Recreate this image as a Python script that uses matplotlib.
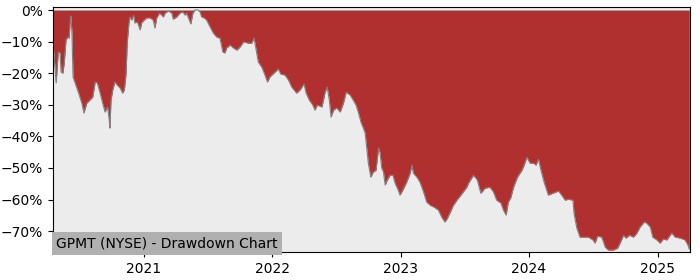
import pandas as pd
import matplotlib
matplotlib.use("Agg")
import matplotlib.pyplot as plt
import matplotlib.dates as mdates
from matplotlib.ticker import FuncFormatter

# drawdown (percent below running peak)
dates = [
    "2020-04-18", "2020-04-26", "2020-05-02", "2020-05-07", "2020-05-10", "2020-05-15",
    "2020-05-19", "2020-05-24", "2020-05-29", "2020-06-02", "2020-06-05", "2020-06-07",
    "2020-06-10", "2020-06-13", "2020-06-19", "2020-06-28", "2020-07-08", "2020-07-14",
    "2020-07-22", "2020-07-31", "2020-08-08", "2020-08-15", "2020-08-21", "2020-08-29",
    "2020-09-03", "2020-09-12", "2020-09-19", "2020-09-24", "2020-09-26", "2020-09-29",
    "2020-10-04", "2020-10-10", "2020-10-17", "2020-10-25", "2020-11-01", "2020-11-06",
    "2020-11-11", "2020-11-14", "2020-11-19", "2020-11-22", "2020-11-27", "2020-12-02",
    "2020-12-06", "2020-12-13", "2020-12-21", "2020-12-25", "2021-01-01", "2021-01-09",
    "2021-01-18", "2021-01-27", "2021-02-01", "2021-02-06", "2021-02-14", "2021-02-20",
    "2021-02-25", "2021-03-02", "2021-03-11", "2021-03-21", "2021-03-25", "2021-04-04",
    "2021-04-13", "2021-04-21", "2021-04-28", "2021-05-02", "2021-05-14", "2021-05-20",
    "2021-05-26", "2021-06-04", "2021-06-09", "2021-06-14", "2021-06-21", "2021-06-28",
    "2021-07-08", "2021-07-17", "2021-07-27", "2021-08-05", "2021-08-13", "2021-08-19",
    "2021-08-24", "2021-09-03", "2021-09-12", "2021-09-22", "2021-10-01", "2021-10-11",
    "2021-10-25", "2021-11-03", "2021-11-10", "2021-11-16", "2021-11-22", "2021-12-02",
    "2021-12-11", "2021-12-18", "2021-12-25", "2022-01-09", "2022-01-18", "2022-01-25",
    "2022-02-06", "2022-02-16", "2022-02-25", "2022-03-11", "2022-03-21", "2022-04-01",
    "2022-04-07", "2022-04-16", "2022-04-26", "2022-05-02", "2022-05-09", "2022-05-22",
    "2022-05-31", "2022-06-06", "2022-06-12", "2022-06-17", "2022-06-24", "2022-07-03",
    "2022-07-13", "2022-07-22", "2022-07-30", "2022-08-10", "2022-08-19", "2022-08-27",
    "2022-09-03", "2022-09-10", "2022-09-17", "2022-09-22", "2022-09-27", "2022-10-01",
    "2022-10-08", "2022-10-15", "2022-10-23", "2022-10-30", "2022-11-03", "2022-11-08",
    "2022-11-13", "2022-11-18", "2022-11-24", "2022-12-02", "2022-12-10", "2022-12-16",
    "2022-12-25", "2022-12-30", "2023-01-07", "2023-01-18", "2023-01-28", "2023-02-02",
    "2023-02-06", "2023-02-16", "2023-02-25", "2023-03-07", "2023-03-16", "2023-03-26",
    "2023-04-06", "2023-04-18", "2023-04-28", "2023-05-07", "2023-05-14", "2023-05-22",
    "2023-05-31", "2023-06-10", "2023-06-19", "2023-06-28", "2023-07-08", "2023-07-13",
    "2023-07-27", "2023-08-07", "2023-08-17", "2023-08-29", "2023-09-12", "2023-09-22",
    "2023-10-01", "2023-10-13", "2023-10-20", "2023-10-28", "2023-11-03", "2023-11-10",
    "2023-11-18", "2023-11-29", "2023-12-12", "2023-12-18", "2023-12-26", "2024-01-04",
    "2024-01-14", "2024-01-21", "2024-01-28", "2024-02-04", "2024-02-13", "2024-02-25",
    "2024-03-09", "2024-03-25", "2024-04-03", "2024-04-13", "2024-04-22", "2024-05-05",
    "2024-05-08", "2024-05-16", "2024-05-25", "2024-06-09", "2024-06-18", "2024-07-01",
    "2024-07-07", "2024-07-14", "2024-07-26", "2024-08-05", "2024-08-14", "2024-08-28",
    "2024-09-09", "2024-09-16", "2024-09-26", "2024-10-03", "2024-10-13", "2024-10-24",
    "2024-11-03", "2024-11-12", "2024-11-24", "2024-12-01", "2024-12-11", "2024-12-18",
    "2024-12-30", "2025-01-08", "2025-01-17", "2025-01-27", "2025-02-10", "2025-02-20",
    "2025-03-06", "2025-03-20", "2025-03-28", "2025-04-01",
]
drawdown = [
    -11.7, -23.1, -13.3, -13.6, -19.6, -20.0,
    -16.8, -9.5, -8.6, -8.9, -3.2, -1.9,
    -7.3, -21.2, -23.1, -26.0, -29.5, -32.6,
    -29.5, -28.5, -27.6, -22.8, -23.1, -26.3,
    -28.5, -32.3, -30.7, -34.8, -37.4, -28.5,
    -25.3, -22.8, -23.8, -24.7, -26.3, -25.3,
    -20.0, -10.5, -4.1, -2.2, -3.2, -1.6,
    -4.1, -3.8, -6.3, -4.1, -3.2, -2.5,
    -2.5, -3.2, -5.7, -2.5, -1.0, -1.6,
    -2.2, -1.0, -0.3, -1.0, -2.9, -2.2,
    -1.0, -0.6, -1.6, -1.0, -4.4, -1.0,
    0.0, 0.0, -0.6, -2.2, -2.5, -3.2,
    -5.4, -7.3, -8.6, -8.9, -13.3, -13.6,
    -12.0, -11.1, -12.0, -12.7, -11.7, -10.1,
    -10.5, -10.5, -8.9, -12.7, -16.5, -18.1,
    -20.6, -22.8, -21.2, -19.6, -18.7, -20.3,
    -20.6, -22.2, -24.4, -26.3, -25.3, -23.4,
    -26.3, -28.5, -30.1, -31.7, -30.1, -30.7,
    -26.0, -24.4, -28.5, -33.9, -31.7, -31.0,
    -32.3, -29.5, -26.0, -26.9, -28.5, -30.1,
    -32.6, -35.5, -37.4, -39.0, -44.3, -48.5,
    -52.9, -51.3, -50.7, -43.7, -45.0, -50.0,
    -51.3, -55.4, -53.8, -52.3, -52.3, -54.8,
    -57.0, -58.6, -57.0, -54.5, -51.6, -49.1,
    -51.6, -52.9, -54.5, -57.6, -60.8, -61.8,
    -62.4, -63.3, -65.6, -67.1, -65.9, -64.0,
    -61.8, -60.2, -58.9, -57.6, -56.1, -54.8,
    -52.3, -53.8, -58.0, -56.4, -56.1, -57.6,
    -60.2, -61.1, -63.3, -64.9, -60.8, -59.5,
    -56.1, -52.9, -50.7, -49.1, -46.6, -48.5,
    -48.5, -49.1, -47.2, -50.7, -54.5, -58.6,
    -58.0, -57.3, -58.6, -60.2, -59.9, -60.2,
    -64.3, -69.0, -71.9, -71.9, -71.9, -72.8,
    -73.8, -71.6, -71.9, -75.1, -76.0, -76.0,
    -75.4, -73.8, -71.3, -72.2, -71.3, -71.9,
    -70.6, -68.7, -67.1, -67.5, -68.7, -71.9,
    -72.8, -73.8, -72.5, -72.8, -70.6, -71.9,
    -72.2, -72.8, -74.4, -75.7,
]
title = "GPMT (NYSE) - Drawdown Chart"

x = pd.to_datetime(dates)

fig = plt.figure(figsize=(7, 2.8), dpi=100)
ax = fig.add_axes([0.0757, 0.1, 0.91, 0.875])
ax.set_facecolor("#ececec")

ax.fill_between(x, drawdown, 0, color="#b03030", linewidth=0)
ax.plot(x, drawdown, color="#808080", linewidth=0.8)

ax.set_xlim(pd.Timestamp("2020-04-17"), pd.Timestamp("2025-04-03"))
ax.set_ylim(-76.6, 0.95)
ax.yaxis.set_major_formatter(FuncFormatter(lambda v, p: "{:.0f}%".format(v).replace("-", "\u2212")))
ax.set_yticks([0, -10, -20, -30, -40, -50, -60, -70])
ax.xaxis.set_major_locator(mdates.YearLocator())
ax.xaxis.set_major_formatter(mdates.DateFormatter("%Y"))
ax.tick_params(labelsize=10)

ax.text(0.005, 0.035, title, transform=ax.transAxes, fontsize=10, va="center", ha="left",
        bbox=dict(facecolor="#b0b0b0", edgecolor="none", pad=3))

fig.savefig("out.png")
